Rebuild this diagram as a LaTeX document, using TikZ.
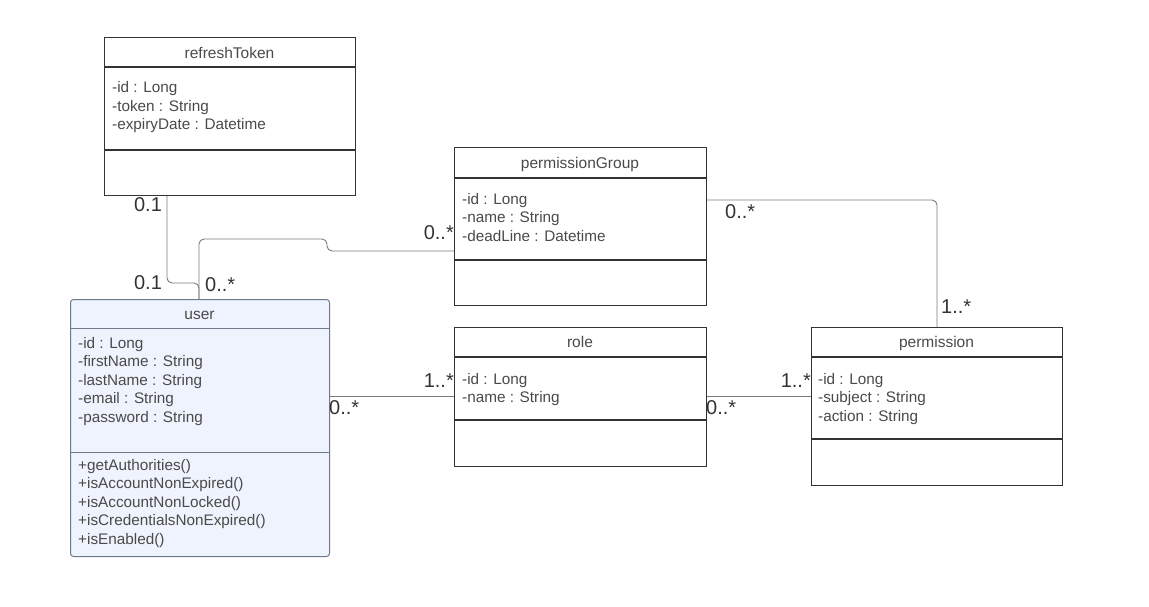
\documentclass[tikz,border=0pt]{standalone}
\usepackage{fontspec}
\setmainfont{Liberation Sans}
\begin{document}
\definecolor{boxline}{HTML}{333333}
\definecolor{txt}{HTML}{4A4A4A}
\definecolor{conn}{HTML}{7A7A7A}
\definecolor{userfill}{HTML}{EEF3FD}
\definecolor{userline}{HTML}{6E7A8C}
\begin{tikzpicture}[x=1pt,y=-1pt,
  classbox/.style={draw=boxline, line width=1.2pt, fill=white, inner sep=0pt, anchor=north west},
  userbox/.style={draw=userline, line width=1pt, fill=userfill, rounded corners=3pt, inner sep=0pt, anchor=north west},
  divider/.style={draw=boxline, line width=1.1pt},
  udivider/.style={draw=userline, line width=1pt},
  title/.style={text=txt, font=\fontsize{15.5}{18}\selectfont, inner sep=0pt, anchor=base},
  members/.style={text=txt, font=\fontsize{15.3}{18.5}\selectfont, inner sep=0pt, align=left, anchor=base west},
  assoc/.style={draw=conn, line width=0.9pt, rounded corners=5pt},
  mult/.style={text=black!80, font=\fontsize{20}{22}\selectfont, inner sep=0pt}
]
\useasboundingbox (0,0) rectangle (1149,607);

% refreshToken
\node[classbox, minimum width=251pt, minimum height=158pt] (rt) at (104,37) {};
\draw[divider] (104,67) -- (355,67);
\draw[divider] (104,150) -- (355,150);
\node[title] (rtT) at (229.5,58.5) {refreshToken};
% members: anchored at the baseline of the last line
\node[members] (rtA) at (112,130) {-id : Long\\-token : String\\-expiryDate : Datetime};

% permissionGroup
\node[classbox, minimum width=252pt, minimum height=158pt] (pg) at (454,147) {};
\draw[divider] (454,178) -- (706,178);
\draw[divider] (454,260) -- (706,260);
\node[title] (pgT) at (580,168.5) {permissionGroup};
\node[members] (pgA) at (462,241) {-id : Long\\-name : String\\-deadLine : Datetime};

% role
\node[classbox, minimum width=252pt, minimum height=139pt] (role) at (454,327) {};
\draw[divider] (454,357) -- (706,357);
\draw[divider] (454,420) -- (706,420);
\node[title] (roleT) at (580,347.5) {role};
\node[members] (roleA) at (462,402.5) {-id : Long\\-name : String};

% permission
\node[classbox, minimum width=251pt, minimum height=158pt] (perm) at (811,327) {};
\draw[divider] (811,357) -- (1062,357);
\draw[divider] (811,439) -- (1062,439);
\node[title] (permT) at (936.5,347.5) {permission};
\node[members] (permA) at (818,421) {-id : Long\\-subject : String\\-action : String};

% user
\node[userbox, minimum width=259pt, minimum height=257pt] (user) at (70,299) {};
\draw[udivider] (70,328) -- (329,328);
\draw[udivider] (70,452) -- (329,452);
\node[title] (userT) at (199.5,319.5) {user};
\node[members] (userA) at (78,422) {-id : Long\\-firstName : String\\-lastName : String\\-email : String\\-password : String};
\node[members] (userM) at (78,544) {+getAuthorities()\\+isAccountNonExpired()\\+isAccountNonLocked()\\+isCredentialsNonExpired()\\+isEnabled()};

% associations
\coordinate (uTop) at ([xshift=129pt]user.north west);
\coordinate (jog) at (167,283);
\draw[assoc] ([xshift=63pt]rt.south west) -- (jog) -- (uTop |- jog) -- (uTop);
\draw[assoc] (uTop) -- ++(0,-60) -- (327,239) -- (327,251) -- (pg.west |- 0,251);
\draw[assoc] (user.east |- 0,396) -- (role.west |- 0,396);
\draw[assoc] (role.east |- 0,396) -- (perm.west |- 0,396);
\draw[assoc] (pg.east |- 0,200) -| (perm.north -| 937,0);

% multiplicities
\node[mult] (m1) at (148,205) {0.1};
\node[mult] (m2) at (148,283) {0.1};
\node[mult, anchor=west] (m3) at (205,285) {0..*};
\node[mult, anchor=east] (m4) at (454,233) {0..*};
\node[mult, anchor=west] (m5) at (329,408) {0..*};
\node[mult, anchor=east] (m6) at (454,381) {1..*};
\node[mult, anchor=west] (m7) at (706,408) {0..*};
\node[mult, anchor=east] (m8) at (811,381) {1..*};
\node[mult, anchor=west] (m9) at (725,212) {0..*};
\node[mult, anchor=west] (m10) at (941,307) {1..*};
\end{tikzpicture}
\end{document}
